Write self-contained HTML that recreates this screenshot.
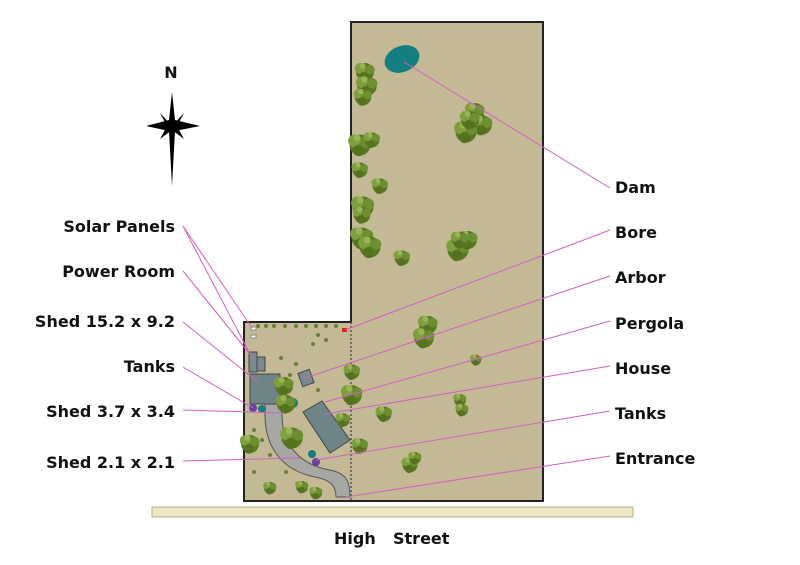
<!DOCTYPE html>
<html><head><meta charset="utf-8"><style>
html,body{margin:0;padding:0;background:#fff;width:800px;height:565px;overflow:hidden}
text{font-family:"DejaVu Sans","Liberation Sans",sans-serif;font-weight:bold;font-size:16px;fill:#111}
</style></head><body>
<svg width="800" height="565" viewBox="0 0 800 565" xmlns="http://www.w3.org/2000/svg">
<defs>
<g id="t"><circle cx="0" cy="0" r="7.5" fill="#5a7824"/><circle cx="-4" cy="-3" r="4.5" fill="#7f9f3e"/><circle cx="4" cy="-2" r="4" fill="#6d8e31"/><circle cx="-1" cy="4" r="4" fill="#55731f"/><circle cx="-2" cy="-5" r="2.5" fill="#98b456"/></g>
</defs>
<!-- land -->
<polygon points="351,22 543,22 543,501 244,501 244,322 351,322" fill="#c4b995" stroke="#222" stroke-width="2"/>
<line x1="351" y1="322" x2="351" y2="501" stroke="#555" stroke-width="1.5" stroke-dasharray="2,2"/>
<!-- street -->
<rect x="152" y="507" width="481" height="10" fill="#ede6c4" stroke="#b9b08a"/>
<!-- dam -->
<ellipse cx="402" cy="59" rx="18" ry="13" fill="#147f80" transform="rotate(-22 402 59)"/>
<!-- trees north -->
<use href="#t" transform="translate(365,72) scale(1.2)"/><use href="#t" transform="translate(367,86) scale(1.3)"/><use href="#t" transform="translate(363,97) scale(1.1)"/>
<use href="#t" transform="translate(475,112) scale(1.2)"/><use href="#t" transform="translate(482,125) scale(1.3)"/><use href="#t" transform="translate(466,132) scale(1.4)"/><use href="#t" transform="translate(470,120) scale(1.2)"/>
<use href="#t" transform="translate(360,145) scale(1.4)"/><use href="#t" transform="translate(372,140)"/><use href="#t" transform="translate(360,170)"/>
<use href="#t" transform="translate(380,186)"/><use href="#t" transform="translate(363,207) scale(1.4)"/><use href="#t" transform="translate(362,215) scale(1.1)"/>
<use href="#t" transform="translate(362,238) scale(1.4)"/><use href="#t" transform="translate(370,247) scale(1.4)"/><use href="#t" transform="translate(402,258)"/>
<use href="#t" transform="translate(458,250) scale(1.4)"/><use href="#t" transform="translate(468,240) scale(1.2)"/><use href="#t" transform="translate(460,240) scale(1.1)"/>
<use href="#t" transform="translate(428,325) scale(1.2)"/><use href="#t" transform="translate(424,338) scale(1.3)"/><use href="#t" transform="translate(476,360) scale(0.7)"/>
<use href="#t" transform="translate(352,372)"/><use href="#t" transform="translate(352,395) scale(1.3)"/><use href="#t" transform="translate(384,414)"/>
<use href="#t" transform="translate(460,400) scale(0.8)"/><use href="#t" transform="translate(462,410) scale(0.8)"/>
<use href="#t" transform="translate(360,446)"/><use href="#t" transform="translate(410,465)"/><use href="#t" transform="translate(415,458) scale(0.8)"/>
<!-- small lot -->
<path d="M265,388 L282,388 L282,415 C282,445 300,465 330,470 C345,473 350,480 350,497 L336,497 C336,485 330,480 315,477 C280,470 265,445 265,415 Z" fill="#a7a7a3" stroke="#555"/>
<rect x="249" y="352" width="8" height="20" fill="#7a8a90" stroke="#444"/>
<rect x="257" y="357" width="8" height="14" fill="#7a8a90" stroke="#444"/>
<rect x="250" y="374" width="30" height="30" fill="#6f8486" stroke="#444"/>
<rect x="300" y="371" width="12" height="14" fill="#7a8a90" stroke="#444" transform="rotate(-20 306 378)"/>
<polygon points="303,412 322,401 350,440 330,453" fill="#6f8486" stroke="#444"/>
<circle cx="253" cy="408" r="4" fill="#6a3fa0"/><circle cx="262" cy="409" r="4" fill="#167d7a"/>
<circle cx="293" cy="403" r="5" fill="#167d7a"/><circle cx="312" cy="454" r="4" fill="#167d7a"/><circle cx="316" cy="462" r="4" fill="#6a3fa0"/>
<rect x="251" y="327" width="5" height="3" fill="#fff" stroke="#888"/><rect x="251" y="335" width="5" height="3" fill="#fff" stroke="#888"/>
<rect x="342" y="328" width="5" height="4" fill="#d22"/>
<use href="#t" transform="translate(284,386) scale(1.2)"/><use href="#t" transform="translate(286,404) scale(1.2)"/>
<use href="#t" transform="translate(292,438) scale(1.4)"/><use href="#t" transform="translate(250,444) scale(1.2)"/>
<use href="#t" transform="translate(270,488) scale(0.8)"/><use href="#t" transform="translate(302,487) scale(0.8)"/><use href="#t" transform="translate(316,493) scale(0.8)"/>
<use href="#t" transform="translate(343,420) scale(0.9)"/>
<g fill="#6b7f3a"><circle cx="258" cy="326" r="2"/><circle cx="266" cy="326" r="2"/><circle cx="274" cy="326" r="2"/><circle cx="285" cy="326" r="2"/><circle cx="296" cy="326" r="2"/><circle cx="306" cy="326" r="2"/><circle cx="316" cy="326" r="2"/><circle cx="326" cy="326" r="2"/><circle cx="336" cy="326" r="2"/>
<circle cx="318" cy="335" r="2"/><circle cx="326" cy="340" r="2"/><circle cx="313" cy="344" r="2"/><circle cx="281" cy="358" r="2"/><circle cx="296" cy="364" r="2"/><circle cx="290" cy="375" r="2"/><circle cx="318" cy="390" r="2"/><circle cx="254" cy="430" r="2"/><circle cx="262" cy="440" r="2"/><circle cx="270" cy="455" r="2"/><circle cx="254" cy="472" r="2"/><circle cx="286" cy="472" r="2"/></g>
<!-- leaders -->
<g stroke="#d35fc4" stroke-width="1" fill="none">
<line x1="610" y1="188" x2="404" y2="62"/>
<line x1="610" y1="230" x2="345" y2="330"/>
<line x1="610" y1="276" x2="305" y2="378"/>
<line x1="610" y1="321" x2="325" y2="402"/>
<line x1="610" y1="366" x2="325" y2="414"/>
<line x1="610" y1="411" x2="316" y2="460"/>
<line x1="610" y1="456" x2="346" y2="497"/>
<polyline points="183,226 252,328"/><polyline points="183,226 249,352"/>
<line x1="183" y1="271" x2="253" y2="358"/>
<line x1="183" y1="322" x2="258" y2="382"/>
<line x1="183" y1="367" x2="253" y2="408"/>
<line x1="183" y1="410" x2="284" y2="413"/>
<line x1="183" y1="461" x2="300" y2="458"/>
</g>
<!-- compass -->
<polygon points="172,92 175,120 200,126 175,131 172,186 169,131 146,126 169,120" fill="#000"/>
<polygon points="172,126 184,113 177,126 184,139 172,130 160,139 167,126 160,113" fill="#000"/>
<text x="171" y="78" text-anchor="middle">N</text>
<!-- labels -->
<g text-anchor="end">
<text x="175" y="232">Solar Panels</text>
<text x="175" y="277">Power Room</text>
<text x="175" y="327">Shed 15.2 x 9.2</text>
<text x="175" y="372">Tanks</text>
<text x="175" y="417">Shed 3.7 x 3.4</text>
<text x="175" y="468">Shed 2.1 x 2.1</text>
</g>
<text x="615" y="193">Dam</text>
<text x="615" y="238">Bore</text>
<text x="615" y="283">Arbor</text>
<text x="615" y="329">Pergola</text>
<text x="615" y="374">House</text>
<text x="615" y="419">Tanks</text>
<text x="615" y="464">Entrance</text>
<text x="334" y="544">High</text>
<text x="393" y="544">Street</text>
</svg>
</body></html>
